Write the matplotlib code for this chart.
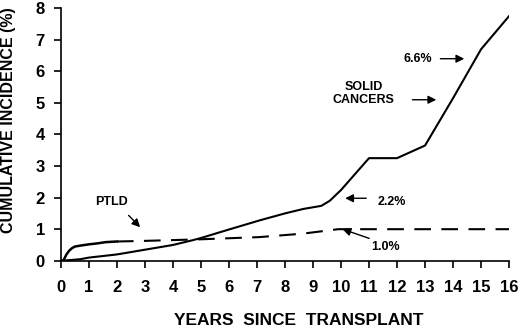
import matplotlib
matplotlib.use('Agg')
import matplotlib.pyplot as plt

plt.rcParams['font.family'] = ['Liberation Sans', 'DejaVu Sans']
plt.rcParams['font.weight'] = 'bold'

# Solid cancers cumulative incidence (%)
solid_years = [0, 0.3, 0.7, 1.0, 2.0, 3.0, 4.0, 4.7, 5.0, 6.0, 7.1, 8.0, 8.65, 9.3, 9.6, 10.0, 11.0, 12.0, 13.0, 14.0, 15.0, 16.0]
solid_pct = [0, 0.02, 0.05, 0.1, 0.2, 0.35, 0.5, 0.65, 0.72, 0.99, 1.28, 1.5, 1.64, 1.74, 1.9, 2.24, 3.25, 3.25, 3.65, 5.15, 6.7, 7.75]

# PTLD: early steps drawn solid, later part dashed
ptld_early_years = [0, 0.1, 0.2, 0.3, 0.4, 0.5, 0.7, 1.0, 1.3, 1.6, 2.0]
ptld_early_pct = [0, 0.02, 0.2, 0.32, 0.4, 0.45, 0.48, 0.52, 0.55, 0.59, 0.61]
ptld_late_years = [2.0, 3.0, 5.0, 7.1, 8.65, 9.9, 16.0]
ptld_late_pct = [0.61, 0.63, 0.68, 0.75, 0.86, 1.0, 1.0]

x_ticks = list(range(0, 17))
y_ticks = list(range(0, 9))

fig = plt.figure(figsize=(5.2, 3.28), dpi=100)
ax = fig.add_axes([0.117, 0.205, 0.862, 0.77])

ax.plot(solid_years, solid_pct, color='black', lw=1.5)
ax.plot(ptld_early_years, ptld_early_pct, color='black', lw=1.8)
ax.plot(ptld_late_years, ptld_late_pct, color='black', lw=1.5, dashes=(8, 5))

ax.set_xlim(0, 16)
ax.set_ylim(0, 8)
ax.set_xticks(x_ticks)
ax.set_yticks(y_ticks)
ax.tick_params(labelsize=12, width=1.2, length=5, direction='out')
ax.tick_params(axis='x', pad=9)
ax.tick_params(axis='y', pad=6.5)
for lbl in ax.get_xticklabels() + ax.get_yticklabels():
    lbl.set_fontweight('bold')
ax.spines['top'].set_visible(False)
ax.spines['right'].set_visible(False)
ax.spines['left'].set_linewidth(1.2)
ax.spines['bottom'].set_linewidth(1.2)

ax.set_xlabel('YEARS  SINCE  TRANSPLANT', fontsize=12.5, fontweight='bold', va='center')
ax.set_ylabel('CUMULATIVE INCIDENCE (%)', fontsize=11.5, fontweight='bold', va='center')
ax.xaxis.set_label_coords(0.53, -0.235)
ax.yaxis.set_label_coords(-0.116, 0.557)

arrow = dict(arrowstyle='-|>', color='black', lw=1.0, mutation_scale=12)
fs = 9
ax.annotate('', xy=(14.5, 6.4), xytext=(13.45, 6.4), arrowprops=arrow)
ax.text(12.75, 6.4, '6.6%', fontsize=fs, fontweight='bold', ha='center', va='center')
ax.text(10.8, 5.3, 'SOLID\nCANCERS', fontsize=fs, fontweight='bold', ha='center', va='center', linespacing=1.2)
ax.annotate('', xy=(13.5, 5.1), xytext=(12.45, 5.1), arrowprops=arrow)
ax.annotate('', xy=(10.05, 1.98), xytext=(11.0, 1.98), arrowprops=arrow)
ax.text(11.8, 1.87, '2.2%', fontsize=fs, fontweight='bold', ha='center', va='center')
ax.annotate('', xy=(9.96, 1.03), xytext=(11.1, 0.68), arrowprops=arrow)
ax.text(11.6, 0.44, '1.0%', fontsize=fs, fontweight='bold', ha='center', va='center')
ax.text(1.8, 1.87, 'PTLD', fontsize=fs, fontweight='bold', ha='center', va='center')
ax.annotate('', xy=(2.9, 1.0), xytext=(2.35, 1.5), arrowprops=arrow)

fig.savefig('out.png', dpi=100)
